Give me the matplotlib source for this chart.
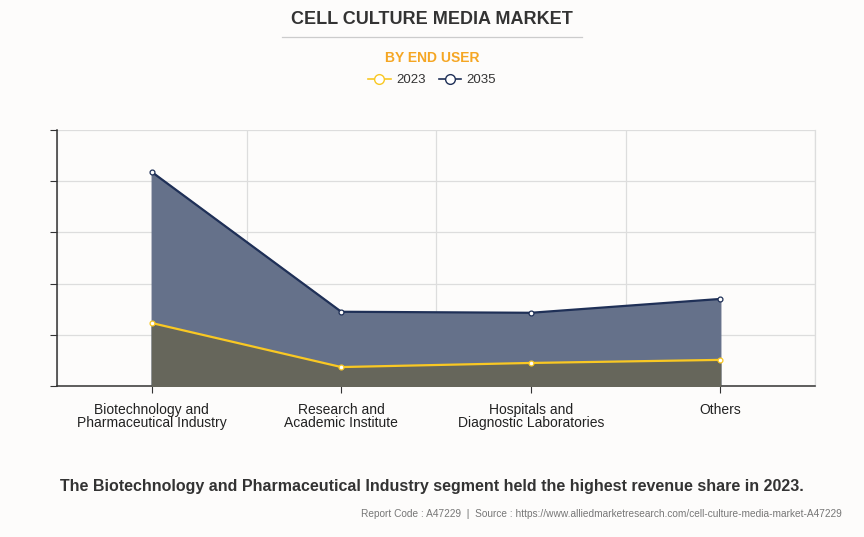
import numpy as np
import matplotlib.pyplot as plt
from matplotlib.lines import Line2D

plt.rcParams['font.family'] = ['Liberation Sans', 'DejaVu Sans']

categories = ['Biotechnology and\nPharmaceutical Industry', 'Research and\nAcademic Institute',
              'Hospitals and\nDiagnostic Laboratories', 'Others']
values_2023 = [1.23, 0.37, 0.45, 0.51]
values_2035 = [4.18, 1.45, 1.43, 1.70]

bg = '#fdfcfb'
fig = plt.figure(figsize=(8.64, 5.37), dpi=100, facecolor=bg)
ax = fig.add_axes([57 / 864, 1 - 386 / 537, (815 - 57) / 864, (386 - 130) / 537], facecolor=bg)

x = np.arange(len(categories))
ax.fill_between(x, 0, values_2035, color='#65718a', zorder=2)
ax.fill_between(x, 0, values_2023, color='#66665b', zorder=3)
ax.plot(x, values_2035, color='#1f3057', lw=1.6, marker='o', ms=3.5, mfc='white', mec='#1f3057', mew=0.9, zorder=4)
ax.plot(x, values_2023, color='#f9c823', lw=1.6, marker='o', ms=3.5, mfc='white', mec='#f9c823', mew=0.9, zorder=4)

ax.set_xlim(-0.5, len(categories) - 0.5)
ax.set_ylim(0, 5)
ax.set_xticks(x)
ax.set_xticklabels(categories, fontsize=10, color='#222222', linespacing=0.95)
ax.set_xticks(np.arange(len(categories) + 1) - 0.5, minor=True)
ax.set_yticks(np.arange(0, 6))
ax.set_yticklabels([])
ax.grid(axis='y', color='#dddddd', lw=0.9, zorder=0)
ax.grid(axis='x', which='minor', color='#dddddd', lw=0.9, zorder=0)
ax.tick_params(axis='x', which='minor', length=0)
ax.tick_params(axis='x', which='major', length=5, color='#333333', pad=7)
ax.tick_params(axis='y', length=5, color='#333333')
ax.spines['top'].set_visible(False)
ax.spines['right'].set_color('#dddddd')
ax.spines['right'].set_linewidth(0.9)
for s in ['left', 'bottom']:
    ax.spines[s].set_color('#333333')
    ax.spines[s].set_linewidth(1.1)

fig.text(0.5, 1 - 20 / 537, 'CELL CULTURE MEDIA MARKET', ha='center', va='center',
         fontsize=13, fontweight='bold', color='#333333')
fig.add_artist(Line2D([282 / 864, 582 / 864], [1 - 37 / 537] * 2, color='#cccccc', lw=0.9))
fig.text(0.5, 1 - 58 / 537, 'BY END USER', ha='center', va='center',
         fontsize=10, fontweight='bold', color='#f5a623')

handles = [Line2D([], [], color='#f9c823', marker='o', ms=7, mfc='white', mec='#f9c823', lw=1.2),
           Line2D([], [], color='#1f3057', marker='o', ms=7, mfc='white', mec='#1f3057', lw=1.2)]
fig.legend(handles, ['2023', '2035'], loc='center', bbox_to_anchor=(0.5, 1 - 80 / 537), ncol=2,
           frameon=False, fontsize=9.5, handlelength=1.7, handletextpad=0.4, columnspacing=1.0,
           labelcolor='#333333')

fig.text(0.5, 1 - 487 / 537,
         'The Biotechnology and Pharmaceutical Industry segment held the highest revenue share in 2023.',
         ha='center', va='center', fontsize=11.5, fontweight='bold', color='#333333')
fig.text(842 / 864, 1 - 514 / 537,
         'Report Code : A47229  |  Source : https://www.alliedmarketresearch.com/cell-culture-media-market-A47229',
         ha='right', va='center', fontsize=7.3, color='#777777')

fig.savefig('out.png', dpi=100, facecolor=bg)
